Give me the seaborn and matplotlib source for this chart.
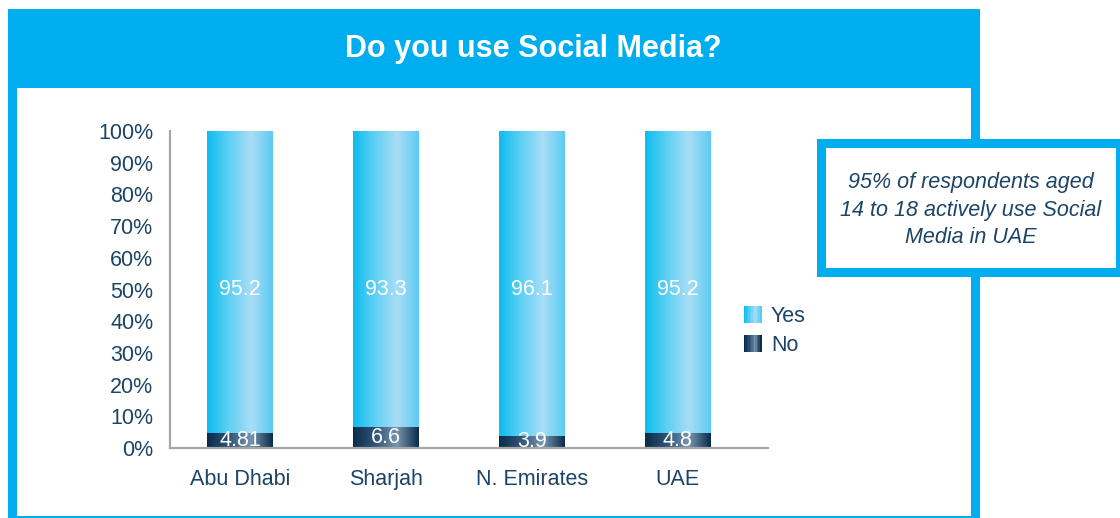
import numpy as np
import pandas as pd
import matplotlib
matplotlib.use("Agg")
from matplotlib import pyplot as plt
from matplotlib.patches import Rectangle
from matplotlib.colors import LinearSegmentedColormap
from matplotlib.legend_handler import HandlerBase
import seaborn as sns

# data
regions = ["Abu Dhabi", "Sharjah", "N. Emirates", "UAE"]
yes_pct = [95.2, 93.3, 96.1, 95.2]
no_pct = [4.81, 6.6, 3.9, 4.8]
yes_labels = ["95.2", "93.3", "96.1", "95.2"]
no_labels = ["4.81", "6.6", "3.9", "4.8"]

BLUE = "#00aeef"
NAVY_TEXT = "#1c4466"
AXIS_GREY = "#a6a6a6"
YES_STOPS = ["#0cbdf0", "#5fd0f3", "#a9ddf6", "#5ccbf2"]
NO_STOPS = ["#0a2c4b", "#2f5475", "#7896b0", "#0a2c4b"]

W, H = 1120, 518
yes_cmap = LinearSegmentedColormap.from_list("yes", YES_STOPS)
no_cmap = LinearSegmentedColormap.from_list("no", NO_STOPS)

df = pd.DataFrame({"region": regions, "yes": yes_pct, "no": no_pct})
df["total"] = df["yes"] + df["no"]

sns.set_theme(style="white")
plt.rcParams["font.family"] = ["Liberation Sans", "DejaVu Sans"]

fig = plt.figure(figsize=(W / 100, H / 100), dpi=100)


def px_rect(x0, y0, x1, y1, color, z):
    # rectangle given in image pixels (origin top-left)
    fig.patches.append(Rectangle((x0 / W, 1 - y1 / H), (x1 - x0) / W, (y1 - y0) / H,
                                 transform=fig.transFigure, facecolor=color,
                                 edgecolor="none", zorder=z))


# outer framed panel
px_rect(8, 9, 980, 518, BLUE, 0)
px_rect(17, 88, 971, 516, "white", 0.5)
fig.text(533 / W, 1 - 49 / H, "Do you use Social Media?", color="white",
         fontsize=22, fontweight="bold", ha="center", va="center")

# call-out box on the right
px_rect(817, 139, 1120, 277, BLUE, 1)
px_rect(826, 148, 1116, 268, "white", 1.5)
fig.text(971 / W, 1 - 210 / H,
         "95% of respondents aged\n14 to 18 actively use Social\nMedia in UAE",
         color=NAVY_TEXT, fontsize=15.5, style="italic", ha="center", va="center",
         linespacing=1.4, zorder=3)

ax = fig.add_axes([170 / W, 1 - 448 / H, 598 / W, 317 / H])
ax.set_facecolor("none")
ax.set_zorder(2)

bar_w = 0.446
sns.barplot(data=df, x="region", y="total", color=YES_STOPS[0], width=bar_w,
            ax=ax, saturation=1, zorder=2)
sns.barplot(data=df, x="region", y="no", color=NO_STOPS[0], width=bar_w,
            ax=ax, saturation=1, zorder=2)

yes_bars, no_bars = ax.containers[0], ax.containers[1]

# horizontal gradient fill on each bar
grad = np.linspace(0, 1, 256).reshape(1, -1)
for bars, cmap in ((yes_bars, yes_cmap), (no_bars, no_cmap)):
    for p in bars:
        x0, y0 = p.get_x(), p.get_y()
        im = ax.imshow(grad, cmap=cmap, aspect="auto", zorder=2.5,
                       extent=(x0, x0 + p.get_width(), y0, y0 + p.get_height()))
        im.set_clip_path(p)

ax.bar_label(yes_bars, labels=yes_labels, label_type="center", color="white",
             fontsize=15.5, zorder=4)
ax.bar_label(no_bars, labels=no_labels, label_type="center", color="white",
             fontsize=15.5, zorder=4)

ax.set_xlim(-0.48, 3.62)
ax.set_ylim(0, 100)
ax.set_yticks(np.arange(0, 101, 10))
ax.set_yticklabels([f"{v}%" for v in range(0, 101, 10)])
ax.set_xlabel("")
ax.set_ylabel("")
ax.tick_params(axis="both", length=0, labelsize=15.5, labelcolor=NAVY_TEXT)
ax.tick_params(axis="x", pad=15)
ax.tick_params(axis="y", pad=12)
for side in ("top", "right"):
    ax.spines[side].set_visible(False)
for side in ("left", "bottom"):
    ax.spines[side].set_color(AXIS_GREY)
    ax.spines[side].set_linewidth(1.6)


class GradientHandler(HandlerBase):
    def __init__(self, cmap):
        super().__init__()
        self.cmap = cmap

    def create_artists(self, legend, orig_handle, xdescent, ydescent, width,
                       height, fontsize, trans):
        n = 12
        arts = []
        for i in range(n):
            r = Rectangle((-xdescent + width * i / n, -ydescent), width / n + 0.3,
                          height, facecolor=self.cmap(i / (n - 1)),
                          edgecolor="none", transform=trans)
            arts.append(r)
        return arts


h_yes = Rectangle((0, 0), 1, 1)
h_no = Rectangle((0, 0), 1, 1)
fig.legend([h_yes, h_no], ["Yes", "No"], loc="upper left",
           bbox_to_anchor=(744 / W, 1 - 306 / H), frameon=False, fontsize=15.5,
           labelcolor=NAVY_TEXT, borderpad=0, borderaxespad=0,
           handlelength=0.8, handleheight=0.8, handletextpad=0.45,
           labelspacing=0.38,
           handler_map={h_yes: GradientHandler(yes_cmap),
                        h_no: GradientHandler(no_cmap)})

fig.savefig("out.png", dpi=100)
